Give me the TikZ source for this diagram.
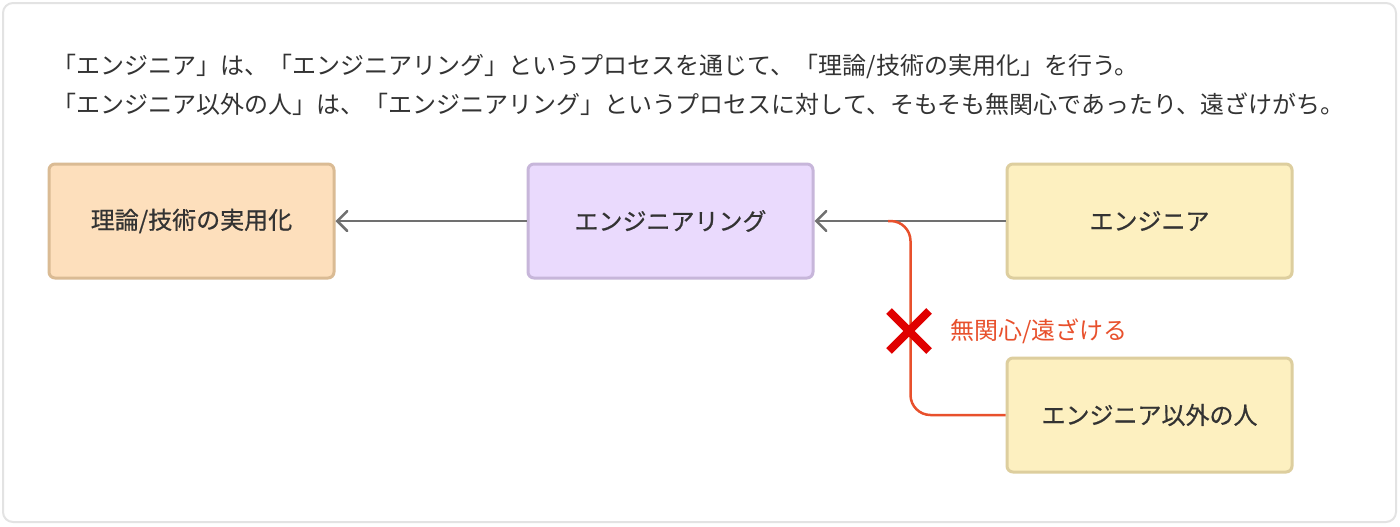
\documentclass[tikz,border=0pt]{standalone}
\usepackage{fontspec}
\setmainfont{Noto Sans CJK JP}
\newfontfamily\boxfont[FakeBold=0.6]{Noto Sans CJK JP}
\usetikzlibrary{arrows.meta, positioning, shapes.misc}
\usepackage{xcolor}
\definecolor{txtgray}{HTML}{333333}
\definecolor{framegray}{HTML}{E3E3E3}
\definecolor{linegray}{HTML}{707070}
\definecolor{peachfill}{HTML}{FDDFBC}
\definecolor{peachdraw}{HTML}{DABB94}
\definecolor{lilacfill}{HTML}{EADAFD}
\definecolor{lilacdraw}{HTML}{C7B6DA}
\definecolor{sandfill}{HTML}{FDF0C0}
\definecolor{sanddraw}{HTML}{DDCE9E}
\definecolor{warnred}{HTML}{E8502C}
\definecolor{crossred}{HTML}{E00000}

\begin{document}
\begin{tikzpicture}[
  x=0.5pt, y=-0.5pt,
  node distance=38.5pt and 95.5pt,
  box/.style={rectangle, rounded corners=3pt, minimum width=142.5pt, minimum height=57pt,
    line width=1.5pt, text centered, text=txtgray, font=\boxfont\fontsize{12pt}{14pt}\selectfont},
  theory/.style={box, draw=peachdraw, fill=peachfill},
  process/.style={box, draw=lilacdraw, fill=lilacfill},
  person/.style={box, draw=sanddraw, fill=sandfill},
  caption/.style={anchor=west, inner sep=0pt, text=txtgray, font=\fontsize{12pt}{14pt}\selectfont},
  arrow/.style={-{Straight Barb[length=5pt, width=10pt, line cap=round]}, line width=1.25pt, draw=linegray},
  reject/.style={line width=1.25pt, draw=warnred, rounded corners=10pt}
]
\useasboundingbox (0,0) rectangle (1400,526);
\draw[framegray, line width=1pt, fill=white, rounded corners=5pt] (3,3) rectangle (1396,522);

\node (line1) [caption] at (52,66) {「エンジニア」は、「エンジニアリング」というプロセスを通じて、「理論/技術の実用化」を行う。};
\node (line2) [caption] at (52,104) {「エンジニア以外の人」は、「エンジニアリング」というプロセスに対して、そもそも無関心であったり、遠ざけがち。};

\node (eng) [process] at (670.5,221) {エンジニアリング};
\node (theory) [theory, left=of eng] {理論/技術の実用化};
\node (engineer) [person, right=of eng] {エンジニア};
\node (others) [person, below=of engineer] {エンジニア以外の人};

\draw [arrow] (eng) -- (theory);
\draw [arrow] (engineer) -- (eng);

% rejected path
\coordinate (join) at (888,221);
\draw [reject] (others.west) -- ++(-95,0) |- (join);
\node (block) [cross out, draw=crossred, line width=4pt, minimum size=16pt, inner sep=0pt] at (909,331) {};
\node (label) [caption, text=warnred] at (950,331) {無関心/遠ざける};

\end{tikzpicture}
\end{document}
